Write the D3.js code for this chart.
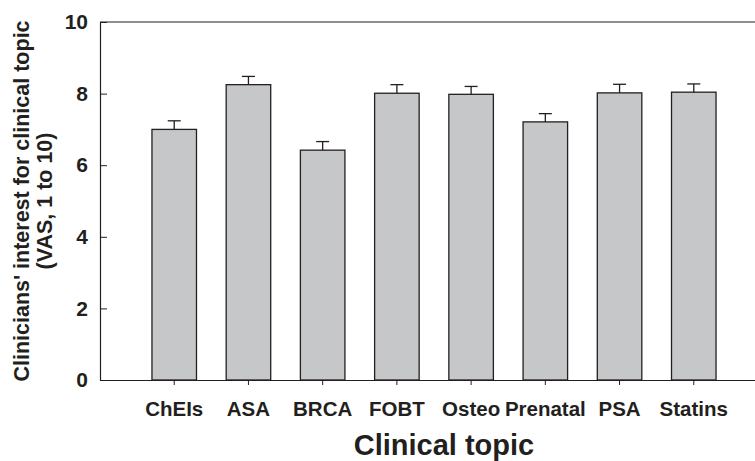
<!DOCTYPE html>
<html>
<head>
<meta charset="utf-8">
<script src="https://cdn.jsdelivr.net/npm/d3@7"></script>
<style>
  body { margin: 0; background: #fff; }
  svg text { font-family: "Liberation Sans", Arial, sans-serif; font-weight: bold; fill: #231f20; }
</style>
</head>
<body>
<svg id="chart"></svg>
<script>
const topics = ['ChEIs', 'ASA', 'BRCA', 'FOBT', 'Osteo', 'Prenatal', 'PSA', 'Statins'];
const interest = [7.00, 8.25, 6.42, 8.01, 7.98, 7.21, 8.02, 8.04];
const errUpper = [7.24, 8.48, 6.66, 8.25, 8.20, 7.44, 8.26, 8.27];
const yTicks = [0, 2, 4, 6, 8, 10];

const width = 755;
const height = 461;
const plotLeft = 100, plotTop = 22, plotBottom = 380;
const plotRight = 768; // frame runs past the picture edge

const svg = d3.select('#chart')
    .attr('width', width)
    .attr('height', height);

const x = d3.scaleBand()
    .domain(topics)
    .range([plotLeft, plotRight])
    .paddingInner(0.4)
    .paddingOuter(0.7);

const y = d3.scaleLinear()
    .domain([0, 10])
    .range([plotBottom, plotTop]);

// top frame line
svg.append('line')
    .attr('x1', plotLeft).attr('x2', plotRight)
    .attr('y1', plotTop).attr('y2', plotTop)
    .attr('stroke', '#231f20').attr('stroke-width', 1.2);

// bars
svg.selectAll('rect.bar')
    .data(topics)
    .enter()
    .append('rect')
    .attr('class', 'bar')
    .attr('x', d => x(d))
    .attr('y', (d, i) => y(interest[i]))
    .attr('width', x.bandwidth())
    .attr('height', (d, i) => y(0) - y(interest[i]))
    .attr('fill', '#c6c7c9')
    .attr('stroke', '#231f20')
    .attr('stroke-width', 1.3);

// error bars (upper only)
const capW = 13;
const err = svg.append('g').attr('stroke', '#231f20').attr('stroke-width', 1.3);
topics.forEach((t, i) => {
    const cx = x(t) + x.bandwidth() / 2;
    err.append('line')
        .attr('x1', cx).attr('x2', cx)
        .attr('y1', y(interest[i])).attr('y2', y(errUpper[i]));
    err.append('line')
        .attr('x1', cx - capW / 2).attr('x2', cx + capW / 2)
        .attr('y1', y(errUpper[i])).attr('y2', y(errUpper[i]));
});

// y axis, ticks pointing inside
const yAxis = svg.append('g')
    .attr('transform', `translate(${plotLeft},0)`)
    .call(d3.axisRight(y).tickValues(yTicks).tickSize(7).tickSizeOuter(0));
yAxis.select('.domain').attr('stroke', '#231f20').attr('stroke-width', 1.2);
yAxis.selectAll('.tick line').attr('stroke', '#231f20');
yAxis.selectAll('.tick text')
    .attr('x', -12)
    .attr('text-anchor', 'end')
    .style('font-size', '21px');

// x axis
const xAxis = svg.append('g')
    .attr('transform', `translate(0,${plotBottom})`)
    .call(d3.axisBottom(x).tickSize(5).tickSizeOuter(0).tickPadding(16));
xAxis.select('.domain').attr('stroke', '#231f20').attr('stroke-width', 1.2);
xAxis.selectAll('.tick line').attr('stroke', '#231f20');
xAxis.selectAll('.tick text').style('font-size', '20.5px');

// axis titles
svg.append('text')
    .attr('x', 444)
    .attr('y', 455)
    .attr('text-anchor', 'middle')
    .style('font-size', '29px')
    .text('Clinical topic');

svg.append('text')
    .attr('transform', `translate(29, ${(plotTop + plotBottom) / 2}) rotate(-90)`)
    .attr('text-anchor', 'middle')
    .style('font-size', '21.5px')
    .text("Clinicians' interest for clinical topic");

svg.append('text')
    .attr('transform', `translate(52, ${(plotTop + plotBottom) / 2}) rotate(-90)`)
    .attr('text-anchor', 'middle')
    .style('font-size', '21.5px')
    .text('(VAS, 1 to 10)');
</script>
</body>
</html>
